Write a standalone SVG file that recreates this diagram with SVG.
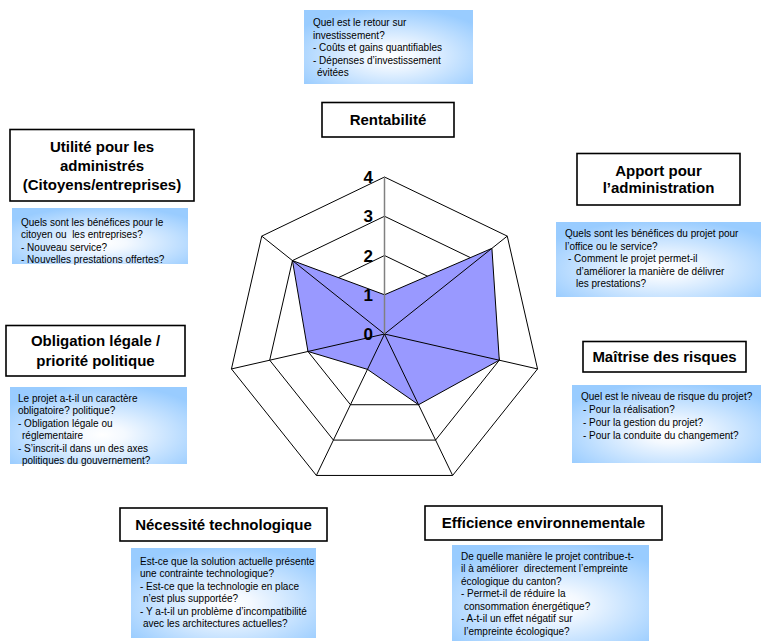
<svg xmlns="http://www.w3.org/2000/svg" width="762" height="641" viewBox="0 0 762 641">
<style>
.title{font-family:"Liberation Sans",Arial,sans-serif;font-size:15px;font-weight:bold;fill:#000;text-anchor:middle}
.tbox{fill:#fff;stroke:#000;stroke-width:1.6}
.qbox{fill:url(#bg);stroke:none}
.q{font-family:"Liberation Sans",Arial,sans-serif;font-size:10px;fill:#000;white-space:pre}
.grid{fill:none;stroke:#000;stroke-width:1}
.spoke{stroke:#000;stroke-width:1}
.lvl{font-family:"Liberation Sans",Arial,sans-serif;font-size:17px;font-weight:bold;fill:#000;text-anchor:end}
</style>
<defs>
<radialGradient id="bg" cx="0.52" cy="0.62" r="0.65">
<stop offset="0" stop-color="#ffffff"/>
<stop offset="0.2" stop-color="#f4f9ff"/>
<stop offset="1" stop-color="#99ccff"/>
</radialGradient>
</defs>

<g id="radar">
<polygon class="grid" points="384.5,177 507.25,236.11 537.56,368.94 452.62,475.45 316.38,475.45 231.44,368.94 261.75,236.11"/>
<polygon class="grid" points="384.5,216.25 476.56,260.59 499.3,360.2 435.59,440.09 333.41,440.09 269.7,360.2 292.44,260.59"/>
<polygon class="grid" points="384.5,255.5 445.87,285.06 461.03,351.47 418.56,404.73 350.44,404.73 307.97,351.47 323.13,285.06"/>
<polygon class="grid" points="384.5,294.75 415.19,309.53 422.77,342.73 401.53,369.36 367.47,369.36 346.23,342.73 353.81,309.53"/>
<polygon fill="#9999ff" stroke="#000" stroke-width="1" points="384.5,294.75 491.9,248.35 499.3,360.2 418.56,404.73 367.47,369.36 307.97,351.47 292.44,260.59"/>
<g id="spokes">
<line class="spoke" x1="384.5" y1="334" x2="507.25" y2="236.11"/>
<line class="spoke" x1="384.5" y1="334" x2="537.56" y2="368.94"/>
<line class="spoke" x1="384.5" y1="334" x2="452.62" y2="475.45"/>
<line class="spoke" x1="384.5" y1="334" x2="316.38" y2="475.45"/>
<line class="spoke" x1="384.5" y1="334" x2="231.44" y2="368.94"/>
<line class="spoke" x1="384.5" y1="334" x2="261.75" y2="236.11"/>
<line x1="384.5" y1="334" x2="384.5" y2="177" stroke="#808080" stroke-width="1.5"/>
</g>
<text class="lvl" x="373" y="183">4</text>
<text class="lvl" x="373" y="222">3</text>
<text class="lvl" x="373" y="262">2</text>
<text class="lvl" x="373" y="301">1</text>
<text class="lvl" x="373" y="340">0</text>
</g>

<g id="rentabilite">
<rect class="qbox" x="304" y="10" width="169" height="74"/>
<text class="q" x="313" y="26">Quel est le retour sur</text>
<text class="q" x="313" y="38.5">investissement?</text>
<text class="q" x="313" y="51">- Coûts et gains quantifiables</text>
<text class="q" x="313" y="63.5">- Dépenses d’investissement</text>
<text class="q" x="317" y="76">évitées</text>
<rect class="tbox" x="322" y="102.5" width="132" height="34.5"/>
<text class="title" x="388" y="125">Rentabilité</text>
</g>

<g id="utilite">
<rect class="tbox" x="10" y="129.5" width="184" height="71.5"/>
<text class="title" x="102" y="151.5">Utilité pour les</text>
<text class="title" x="102" y="170.5">administrés</text>
<text class="title" x="102" y="190">(Citoyens/entreprises)</text>
<rect class="qbox" x="12" y="208" width="176" height="56"/>
<text class="q" x="21" y="226">Quels sont les bénéfices pour le</text>
<text class="q" x="21" y="238">citoyen ou  les entreprises?</text>
<text class="q" x="21" y="250.5">- Nouveau service?</text>
<text class="q" x="21" y="263">- Nouvelles prestations offertes?</text>
</g>

<g id="apport">
<rect class="tbox" x="577" y="153.5" width="163" height="51.5"/>
<text class="title" x="658.5" y="175.5">Apport pour</text>
<text class="title" x="658.5" y="193">l’administration</text>
<rect class="qbox" x="556" y="222" width="205" height="75"/>
<text class="q" x="565" y="237">Quels sont les bénéfices du projet pour</text>
<text class="q" x="565" y="249.5">l’office ou le service?</text>
<text class="q" x="568" y="262">- Comment le projet permet-il</text>
<text class="q" x="576" y="274.5">d’améliorer la manière de délivrer</text>
<text class="q" x="576" y="287">les prestations?</text>
</g>

<g id="obligation">
<rect class="tbox" x="6" y="325.5" width="179" height="50.5"/>
<text class="title" x="95.5" y="345.5">Obligation légale /</text>
<text class="title" x="95.5" y="365.5">priorité politique</text>
<rect class="qbox" x="10" y="387" width="177" height="77"/>
<text class="q" x="18" y="401.5">Le projet a-t-il un caractère</text>
<text class="q" x="18" y="414">obligatoire? politique?</text>
<text class="q" x="18" y="426.5">- Obligation légale ou</text>
<text class="q" x="22" y="439">réglementaire</text>
<text class="q" x="18" y="451.5">- S’inscrit-il dans un des axes</text>
<text class="q" x="22" y="464">politiques du gouvernement?</text>
</g>

<g id="maitrise">
<rect class="tbox" x="583" y="341.5" width="163" height="30.5"/>
<text class="title" x="664.5" y="361.5">Maîtrise des risques</text>
<rect class="qbox" x="572" y="385" width="189" height="78"/>
<text class="q" x="581" y="399.5">Quel est le niveau de risque du projet?</text>
<text class="q" x="583" y="412.5">- Pour la réalisation?</text>
<text class="q" x="583" y="425.5">- Pour la gestion du projet?</text>
<text class="q" x="583" y="438.5">- Pour la conduite du changement?</text>
</g>

<g id="necessite">
<rect class="tbox" x="120" y="508" width="207" height="33"/>
<text class="title" x="223.5" y="529.5">Nécessité technologique</text>
<rect class="qbox" x="131" y="548" width="185" height="90"/>
<text class="q" x="140" y="564.5">Est-ce que la solution actuelle présente</text>
<text class="q" x="140" y="577">une contrainte technologique?</text>
<text class="q" x="140" y="589.5">- Est-ce que la technologie en place</text>
<text class="q" x="143" y="602">n’est plus supportée?</text>
<text class="q" x="140" y="614.5">- Y a-t-il un problème d’incompatibilité</text>
<text class="q" x="143" y="627">avec les architectures actuelles?</text>
</g>

<g id="efficience">
<rect class="tbox" x="425" y="506" width="237" height="34"/>
<text class="title" x="543.5" y="527.5">Efficience environnementale</text>
<rect class="qbox" x="452" y="545" width="197" height="96"/>
<text class="q" x="461" y="559.5">De quelle manière le projet contribue-t-</text>
<text class="q" x="461" y="572">il à améliorer  directement l’empreinte</text>
<text class="q" x="461" y="584.5">écologique du canton?</text>
<text class="q" x="461" y="597">- Permet-il de réduire la</text>
<text class="q" x="464" y="609.5">consommation énergétique?</text>
<text class="q" x="461" y="622">- A-t-il un effet négatif sur</text>
<text class="q" x="464" y="634.5">l’empreinte écologique?</text>
</g>
</svg>
